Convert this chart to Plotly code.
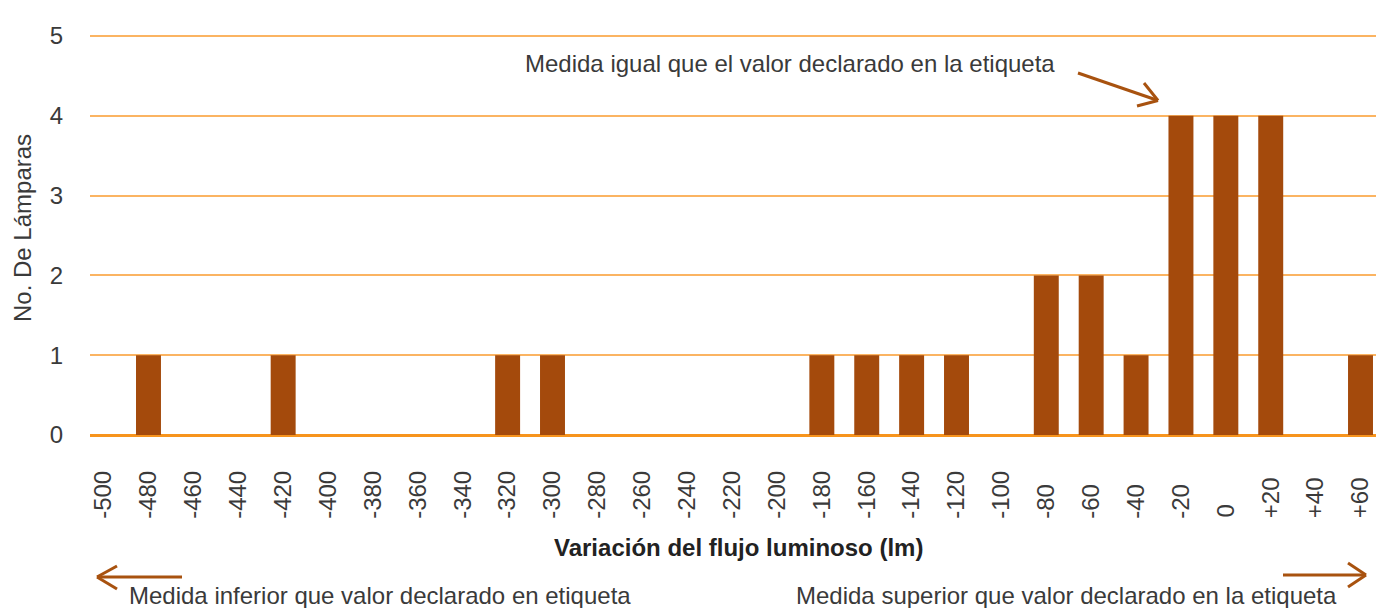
import plotly.graph_objects as go

categories = ["-500", "-480", "-460", "-440", "-420", "-400", "-380", "-360", "-340", "-320",
              "-300", "-280", "-260", "-240", "-220", "-200", "-180", "-160", "-140", "-120",
              "-100", "-80", "-60", "-40", "-20", "0", "+20", "+40", "+60"]
lamparas = [0, 1, 0, 0, 1, 0, 0, 0, 0, 1,
            1, 0, 0, 0, 0, 0, 1, 1, 1, 1,
            0, 2, 2, 1, 4, 4, 4, 0, 1]
y_ticks = [0, 1, 2, 3, 4, 5]

FONT = "Helvetica Neue, Helvetica, Liberation Sans, Arial, sans-serif"
BAR = "#A44A0C"
ARROW = "#A8520F"
TXT = "#3a3a3a"

W, H = 1376, 608
L, R, T, B = 90, 0, 28, 173
PW, PH = W - L - R, H - T - B
YMAX = 5 * PH / (H - B - 36)   # "5" gridline sits at y=36 px, inside the plot


def px(x):
    return (x - L) / PW


def py(y):
    return (H - B - y) / PH


# pad labels so that they line up at their start (bottom), as in the reference
char_w = {"-": 0.333, "+": 0.584, " ": 0.278}
def width(s):
    return sum(char_w.get(c, 0.556) for c in s)
maxw = max(width(c) for c in categories)
ticktext = [c + "\u00a0" * round((maxw - width(c)) / 0.278) for c in categories]

fig = go.Figure()
fig.add_trace(go.Bar(x=categories, y=lamparas, marker_color=BAR, marker_line_width=0,
                     width=0.556))

fig.update_layout(
    width=W, height=H,
    margin=dict(l=L, r=R, t=T, b=B),
    paper_bgcolor="white", plot_bgcolor="white",
    showlegend=False,
    font=dict(family=FONT, color=TXT),
)
fig.update_xaxes(
    type="category", range=[-0.303, 28.345],
    tickmode="array", tickvals=categories, ticktext=ticktext,
    tickangle=-90, tickfont=dict(size=24, color=TXT),
    ticks="", showgrid=False, showline=False, zeroline=False,
    ticklabelstandoff=30,
)
fig.update_yaxes(
    range=[0, YMAX], tickmode="array", tickvals=y_ticks,
    tickfont=dict(size=24, color=TXT),
    showgrid=True, gridcolor="#FBB462", gridwidth=2,
    zeroline=True, zerolinecolor="#F7941D", zerolinewidth=3,
    showline=False, ticks="", ticklabelstandoff=26,
)

ann = [
    dict(text="No. De Lámparas", x=px(23), y=py(228), textangle=-90,
         font=dict(size=24, color=TXT)),
    dict(text="<b>Variación del flujo luminoso (lm)</b>", x=px(738), y=py(547),
         font=dict(size=24, color="#222222")),
    dict(text="Medida igual que el valor declarado en la etiqueta", x=px(790), y=py(64),
         font=dict(size=24, color=TXT)),
    dict(text="Medida inferior que valor declarado en etiqueta", x=px(380), y=py(595),
         font=dict(size=24, color=TXT)),
    dict(text="Medida superior que valor declarado en la etiqueta", x=px(1066), y=py(595),
         font=dict(size=24, color=TXT)),
]
for a in ann:
    fig.add_annotation(xref="paper", yref="paper", showarrow=False,
                       xanchor="center", yanchor="middle", **a)

segments = [
    # top arrow
    ((1078, 73), (1158, 100.5)), ((1144, 83), (1158, 100.5)), ((1137, 106), (1158, 100.5)),
    # bottom-left arrow
    ((182, 577), (97, 577)), ((117, 566), (97, 577)), ((117, 589), (97, 577)),
    # bottom-right arrow
    ((1283, 575), (1366, 575)), ((1348, 563), (1366, 575)), ((1348, 587), (1366, 575)),
]
for (x0, y0), (x1, y1) in segments:
    fig.add_shape(type="line", xref="paper", yref="paper",
                  x0=px(x0), y0=py(y0), x1=px(x1), y1=py(y1),
                  line=dict(color=ARROW, width=3))

fig.write_html(
    "out.html",
    config={"displayModeBar": False},
    post_script="document.body.style.margin='0';document.body.style.overflow='hidden';",
)
